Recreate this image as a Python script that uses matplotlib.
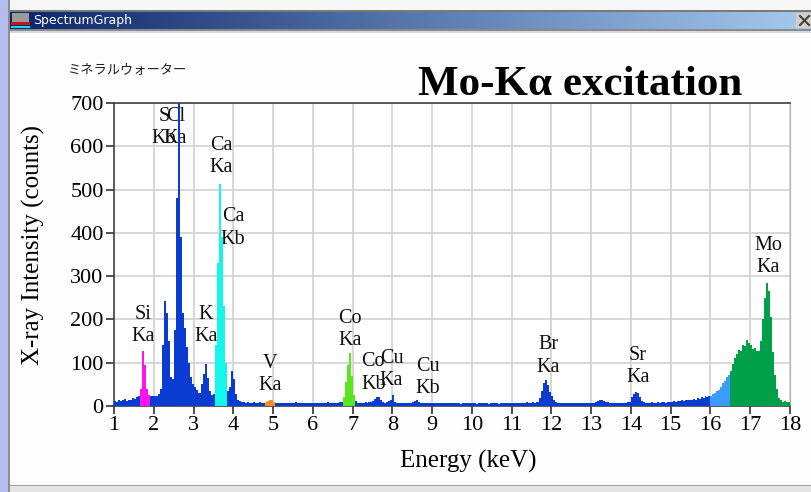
import matplotlib
matplotlib.use("Agg")
import matplotlib.pyplot as plt
from matplotlib.patches import Rectangle
from matplotlib.lines import Line2D
import numpy as np

# X-ray counts per 0.05 keV channel, 1.00 .. 18.00 keV (one row per keV)
e_min, e_step = 1.0, 0.05
counts = [
    12, 10, 14, 11, 13, 16, 12, 15, 14, 18, 16, 20, 22, 40, 127, 95, 40, 26, 24, 22,
    24, 22, 28, 40, 140, 243, 215, 150, 68, 62, 175, 480, 720, 390, 215, 180, 137, 100, 68, 50,
    45, 37, 30, 30, 50, 75, 97, 65, 35, 25, 28, 140, 330, 512, 390, 230, 100, 35, 45, 81,
    62, 28, 15, 11, 9, 10, 8, 9, 7, 8, 9, 7, 8, 9, 8, 7, 10, 12, 14, 13,
    10, 7, 8, 6, 7, 8, 6, 7, 8, 6, 7, 9, 6, 7, 8, 6, 7, 8, 6, 7,
    8, 7, 6, 8, 7, 6, 7, 9, 7, 8, 7, 6, 8, 9, 10, 20, 55, 95, 122, 70,
    25, 12, 8, 7, 8, 7, 9, 8, 9, 10, 12, 16, 21, 20, 14, 9, 8, 9, 11, 13,
    25, 10, 8, 7, 8, 7, 6, 8, 7, 8, 9, 12, 13, 10, 8, 7, 6, 8, 7, 6,
    7, 6, 8, 7, 6, 7, 8, 6, 7, 6, 8, 7, 6, 7, 5, 6, 7, 6, 8, 7,
    6, 7, 5, 6, 7, 6, 8, 6, 5, 7, 6, 7, 6, 5, 7, 6, 7, 6, 8, 7,
    7, 6, 8, 7, 6, 8, 7, 9, 8, 7, 9, 8, 9, 10, 18, 35, 52, 60, 48, 32,
    22, 13, 9, 8, 7, 6, 8, 7, 6, 7, 8, 6, 7, 8, 7, 6, 8, 7, 6, 8,
    7, 8, 9, 11, 13, 14, 12, 10, 9, 8, 7, 8, 7, 6, 8, 7, 8, 7, 9, 10,
    20, 28, 33, 30, 20, 12, 9, 8, 7, 8, 9, 8, 7, 9, 8, 10, 9, 8, 9, 10,
    10, 11, 9, 12, 11, 13, 12, 14, 13, 15, 14, 16, 15, 18, 17, 20, 19, 22, 21, 24,
    24, 27, 30, 34, 37, 44, 52, 58, 66, 72, 80, 98, 112, 120, 130, 128, 140, 138, 152, 146,
    140, 132, 134, 126, 128, 150, 200, 250, 285, 265, 205, 125, 72, 40, 18, 14, 10, 12, 9, 10,
]

# regions of interest (keV) and their fill colours
roi_start = [1.65, 3.55, 4.80, 6.75, 16.00, 16.50]
roi_end = [1.90, 3.85, 5.05, 7.05, 16.50, 18.00]
roi_colors = ["#FF14F0", "#14F5EB", "#FF8C1E", "#5AE61E", "#3C9BFF", "#00A04B"]
base_color = "#0A3CD2"

# peak labels: energy (keV) and label level (counts)
peak_names = ["Si\nKa", "S\nKb", "Cl\nKa", "K\nKa", "Ca\nKa", "Ca\nKb", "V\nKa",
              "Co\nKa", "Co\nKb", "Cu\nKa", "Cu\nKb", "Br\nKa", "Sr\nKa", "Mo\nKa"]
peak_energy = [1.73, 2.26, 2.54, 3.31, 3.69, 3.99, 4.92,
               6.94, 7.52, 7.98, 8.90, 11.92, 14.18, 17.45]
peak_level = [186, 643, 643, 186, 576, 411, 73,
              177, 76, 84, 66, 115, 91, 345]

W, H = 812, 492
plt.rcParams["font.family"] = ["Liberation Serif", "DejaVu Serif"]

fig = plt.figure(figsize=(W / 100, H / 100), dpi=100, facecolor="#FDFDFD")


def px_rect(x0, y0, x1, y1, color, z=0):
    fig.add_artist(Rectangle((x0 / W, 1 - y1 / H), (x1 - x0) / W, (y1 - y0) / H,
                             transform=fig.transFigure, facecolor=color,
                             edgecolor="none", zorder=z))


# window frame
px_rect(0, 0, W, 10, "#F6F6F6")
px_rect(0, 10, W, 12, "#7A7A7A")
px_rect(0, 29, W, 31, "#8A8A8A")
px_rect(0, 31, W, 33, "#D8D8D8")
px_rect(0, 0, 8, H, "#B4BDEE")
px_rect(8, 0, 10, H, "#8C8C8C")
px_rect(10, 486, W, H, "#E4E4E4")
px_rect(10, 485, W, 486, "#A0A0A0")

# title bar with gradient
bar = fig.add_axes([10 / W, 1 - 29 / H, 1 - 10 / W, 17 / H])
c0 = np.array([10, 36, 106]) / 255
c1 = np.array([166, 202, 240]) / 255
t = np.linspace(0, 1, 400)[None, :, None]
bar.imshow(c0 + (c1 - c0) * t, aspect="auto", extent=[0, 1, 0, 1])
bar.set_axis_off()
bar.text(23 / (W - 10), 0.5, "SpectrumGraph", transform=bar.transAxes, color="white",
         va="center", ha="left", fontsize=9, family="DejaVu Sans")
# icon and close button
px_rect(12, 13, 29, 22, "#9A9A9A", 3)
px_rect(11, 22, 30, 25, "#D01010", 3)
px_rect(11, 26, 30, 28, "#00E0F0", 3)
px_rect(796, 13, W, 28, "#D4D0C8", 3)
for xs, ys in (([800, 809], [16, 25]), ([800, 809], [25, 16])):
    fig.add_artist(Line2D([x / W for x in xs], [1 - y / H for y in ys],
                          transform=fig.transFigure, color="#404040", lw=1.5, zorder=4))

# spectrum axes
ax = fig.add_axes([114 / W, 86 / H, 676 / W, 303 / H])
ax.set_facecolor("white")
counts = np.array(counts, dtype=float)
edges = np.round(e_min + e_step * np.arange(len(counts) + 1), 2)
ax.stairs(counts, edges, fill=True, color=base_color, lw=0, zorder=3)
for s, e, c in zip(roi_start, roi_end, roi_colors):
    idx = np.where((edges[:-1] >= s - 1e-6) & (edges[:-1] < e - 1e-6))[0]
    ax.stairs(counts[idx], edges[idx[0]:idx[-1] + 2], fill=True, color=c, lw=0, zorder=3)

for name, en, lv in zip(peak_names, peak_energy, peak_level):
    ax.text(en, lv, name, ha="center", va="center", fontsize=14.5, linespacing=1.25,
            color="#101010", zorder=2)

ax.set_xlim(1, 18)
ax.set_ylim(0, 700)
ax.set_xticks(range(1, 19))
ax.set_yticks(range(0, 701, 100))
ax.grid(True, color="#D4D4D4", lw=1.3)
ax.set_axisbelow(True)
ax.tick_params(axis="both", direction="out", length=6, width=1.2, color="#303030",
               labelsize=16, pad=1.5)
for side in ("left", "top", "bottom"):
    ax.spines[side].set_color("#404040")
    ax.spines[side].set_linewidth(1.2)
ax.spines["right"].set_color("#B4B4B4")

ax.set_xlabel("Energy (keV)", fontsize=18)
ax.xaxis.set_label_coords(0.524, -0.145)
ax.set_ylabel("X-ray Intensity (counts)", fontsize=18)
ax.yaxis.set_label_coords(-0.102, 0.531)

fig.text(418 / W, 1 - 95 / H, "Mo-K\u03b1 excitation", fontsize=31, fontweight="bold",
         va="baseline", ha="left")
fig.text(68 / W, 1 - 70 / H, "ミネラルウォーター", fontsize=9.5, va="center", ha="left",
         family=["Noto Sans CJK JP", "DejaVu Sans"], color="#202020")

fig.savefig("out.png", dpi=100, facecolor=fig.get_facecolor())
